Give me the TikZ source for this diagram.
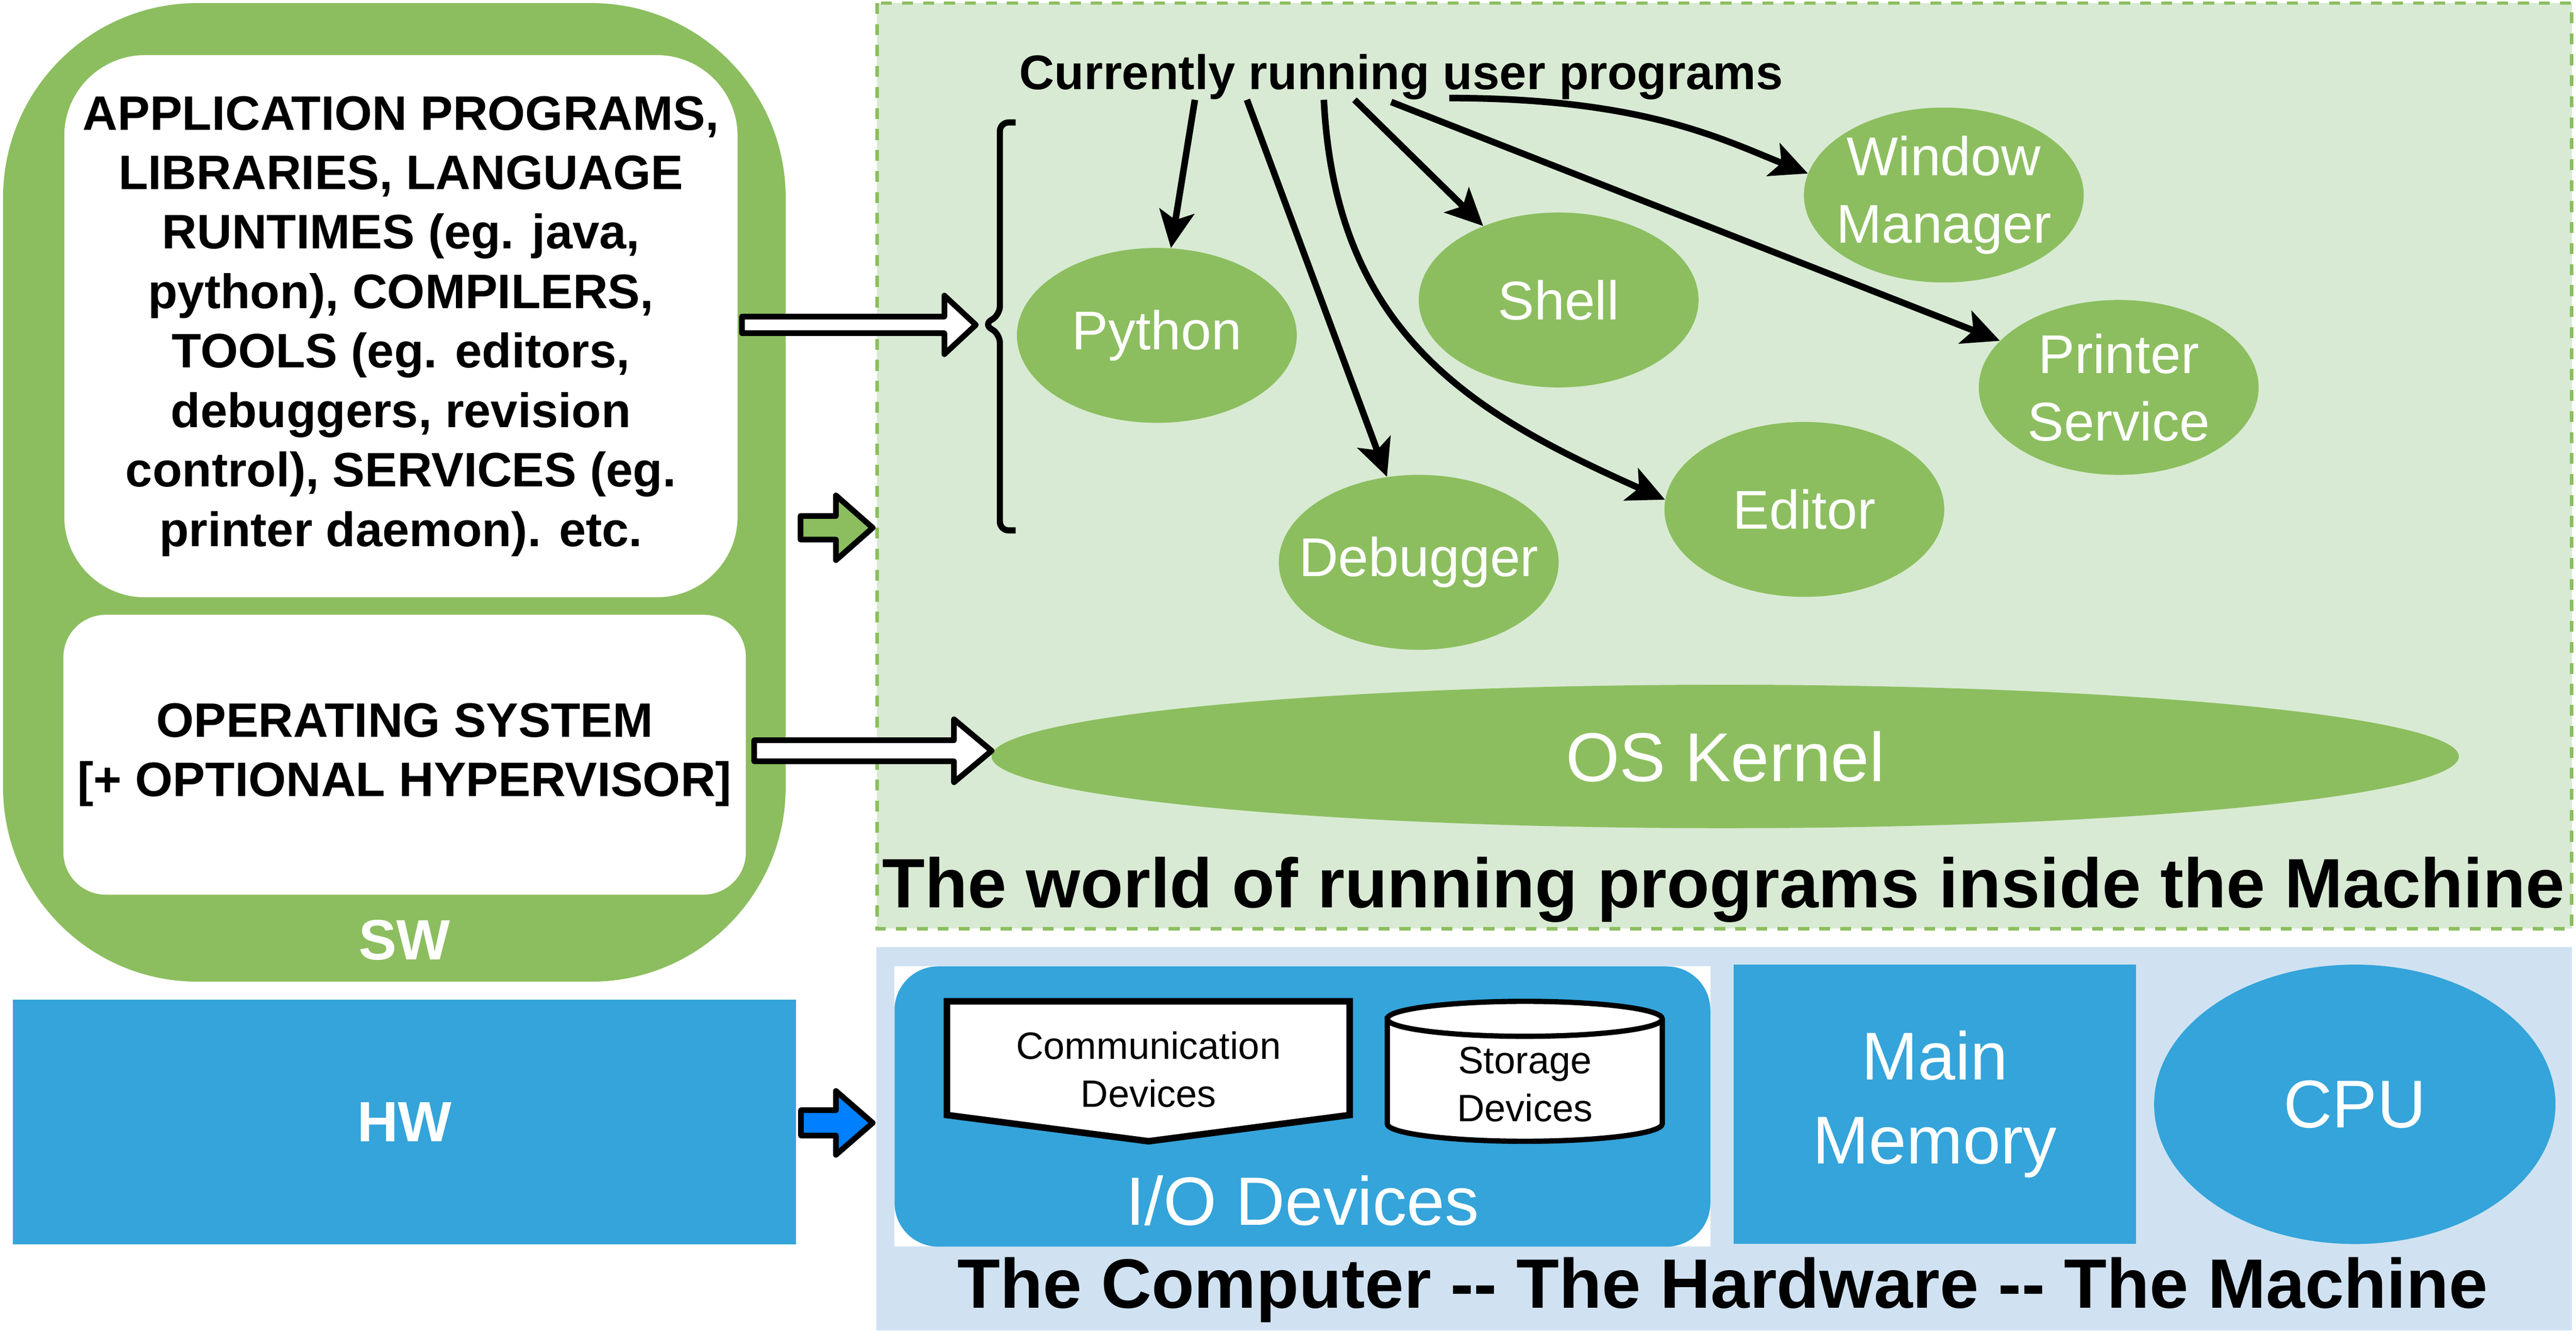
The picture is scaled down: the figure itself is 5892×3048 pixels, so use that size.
\documentclass[tikz,border=0pt]{standalone}
\usepackage{fontspec}
\setmainfont{Liberation Sans}
\usetikzlibrary{shapes.geometric,arrows.meta,calc}

\definecolor{swgreen}{RGB}{140,190,95}
\definecolor{worldgreen}{RGB}{216,234,211}
\definecolor{hwblue}{RGB}{52,164,218}
\definecolor{hwlight}{RGB}{208,226,242}
\definecolor{arrowblue}{RGB}{0,128,255}

\tikzset{
	prog/.style={ellipse, fill=swgreen, minimum width=64mm, minimum height=40mm, inner sep=0pt,
		label={[text=white, align=center, inner sep=0pt, font=\fontsize{35.5}{44}\selectfont]center:#1}},
	run/.style={line width=1.5mm, -{Stealth[length=8.5mm, width=8mm, inset=2mm]}},
	block/.style={line width=1.3mm, line join=round},
	bigtitle/.style={anchor=base, inner sep=0pt, font=\fontsize{45.5}{54}\selectfont\bfseries},
	capsbox/.style={fill=white, inner sep=0pt, align=center, font=\fontsize{31.5}{38.7}\selectfont\bfseries}
}

\begin{document}
\begin{tikzpicture}[x=0.1mm, y=-0.1mm]
	\useasboundingbox (0,0) rectangle (5892,3048);
	% software side
	\fill[swgreen, rounded corners=44.5mm] (7,7) rectangle (1797,2245);
	\node[capsbox, rounded corners=18.5mm, minimum width=154mm, minimum height=124mm] (apps) at (917,746) {APPLICATION PROGRAMS,\\LIBRARIES, LANGUAGE\\RUNTIMES (eg. java,\\python), COMPILERS,\\TOOLS (eg. editors,\\debuggers, revision\\control), SERVICES (eg.\\printer daemon). etc.};
	\node[capsbox, rounded corners=9.7mm, minimum width=156.1mm, minimum height=64mm] (os) at (925.5,1726) {OPERATING SYSTEM\\{[}+ OPTIONAL HYPERVISOR]};
	\node[anchor=base, inner sep=0pt, text=white, font=\fontsize{37}{44}\selectfont\bfseries] (sw) at (925,2195) {SW};
	\node[fill=hwblue, minimum width=179.2mm, minimum height=56mm, text=white, font=\fontsize{37}{44}\selectfont\bfseries] (hw) at (925,2566) {HW};

	% the world of running programs
	\draw[swgreen, line width=0.8mm, dash pattern=on 2.5mm off 2.3mm, fill=worldgreen] (2006,7) rectangle (5882,2124);
	\node[bigtitle] (world) at (3942,2076) {The world of running programs inside the Machine};
	\node[anchor=base, inner sep=0pt, font=\fontsize{31.6}{38}\selectfont\bfseries] (cur) at (3205,204) {Currently running user programs};
	\node[prog=Python] (py) at (2646,767) {};
	\node[prog=Shell] (sh) at (3565,686) {};
	\node[prog=Debugger] (dbg) at (3245,1286) {};
	\node[prog=Editor] (ed) at (4127,1165) {};
	\node[prog={Window\\Manager}] (wm) at (4446,446) {};
	\node[prog={Printer\\Service}] (ps) at (4846,886) {};
	\node[ellipse, fill=swgreen, minimum width=335.6mm, minimum height=32.8mm, text=white, font=\fontsize{45}{54}\selectfont] (kern) at (3946,1730) {OS Kernel};
	\draw[line width=1.4mm, rounded corners=2mm] (2323,280) -- (2287,280) -- (2287,720) -- (2250,742) -- (2287,764) -- (2287,1213) -- (2323,1213);
	\draw[run] ($(cur.south)+(-472,0)$) -- (py);
	\draw[run] ($(cur.south)+(-353,0)$) -- (dbg);
	\draw[run] ($(cur.south)+(-177,0)$) .. controls +(27,550) and +(-419,-188) .. (ed.176);
	\draw[run] ($(cur.south)+(-107,0)$) -- (sh);
	\draw[run] ($(cur.south)+(-23,5)$) -- (ps);
	\draw[run] ($(cur.south)+(110,-4)$) .. controls +(440,0) and +(-200,-80) .. (wm.171);

	% block arrows
	\draw[block, fill=white] (1697,724) -- (2160,724) -- (2160,676) -- (2232,743) -- (2160,810) -- (2160,762) -- (1697,762) -- cycle;
	\draw[block, fill=white] (1725,1693) -- (2182,1693) -- (2182,1645) -- (2268,1717) -- (2182,1789) -- (2182,1741) -- (1725,1741) -- cycle;
	\draw[block, fill=swgreen] (1831,1180) -- (1912,1180) -- (1912,1133) -- (1996,1207) -- (1912,1281) -- (1912,1234) -- (1831,1234) -- cycle;
	\draw[block, fill=arrowblue] (1832,2539) -- (1912,2539) -- (1912,2495) -- (1996,2568) -- (1912,2641) -- (1912,2597) -- (1832,2597) -- cycle;

	% the hardware
	\fill[hwlight] (2005,2166) rectangle (5882,3042);
	\node[bigtitle] (machine) at (3940,2991) {The Computer -{}- The Hardware -{}- The Machine};
	\fill[white] (2046,2210) rectangle (3912,2851);
	\node[fill=hwblue, rounded corners=10mm, minimum width=186.6mm, minimum height=64.1mm, inner sep=0pt] (io) at (2979,2530.5) {};
	\node[anchor=base, inner sep=0pt, text=white, font=\fontsize{44.5}{52}\selectfont] (iolabel) at (2979,2802) {I/O Devices};
	\draw[line width=1.5mm, fill=white] (2166,2290) -- (3087,2290) -- (3087,2550) -- (2627,2610) -- (2166,2550) -- cycle;
	\node[inner sep=0pt, align=center, font=\fontsize{24.8}{31}\selectfont] (comm) at (2627,2446) {Communication\\Devices};
	\draw[line width=1.2mm, fill=white] (3173,2330) -- (3173,2570) arc[start angle=180, end angle=360, x radius=31.45mm, y radius=4mm] -- (3802,2330) arc[start angle=0, end angle=180, x radius=31.45mm, y radius=4mm] -- cycle;
	\draw[line width=1.2mm] (3173,2330) arc[start angle=180, end angle=360, x radius=31.45mm, y radius=4mm];
	\node[inner sep=0pt, align=center, font=\fontsize{24.8}{31}\selectfont] (stor) at (3488,2480) {Storage\\Devices};
	\node[fill=hwblue, minimum width=92.1mm, minimum height=63.9mm, text=white, align=center, font=\fontsize{44}{54.6}\selectfont] (mem) at (4425.5,2525.5) {Main\\Memory};
	\node[ellipse, fill=hwblue, minimum width=91.8mm, minimum height=63.9mm, text=white, font=\fontsize{44}{52}\selectfont] (cpu) at (5386,2525.5) {CPU};
\end{tikzpicture}
\end{document}
